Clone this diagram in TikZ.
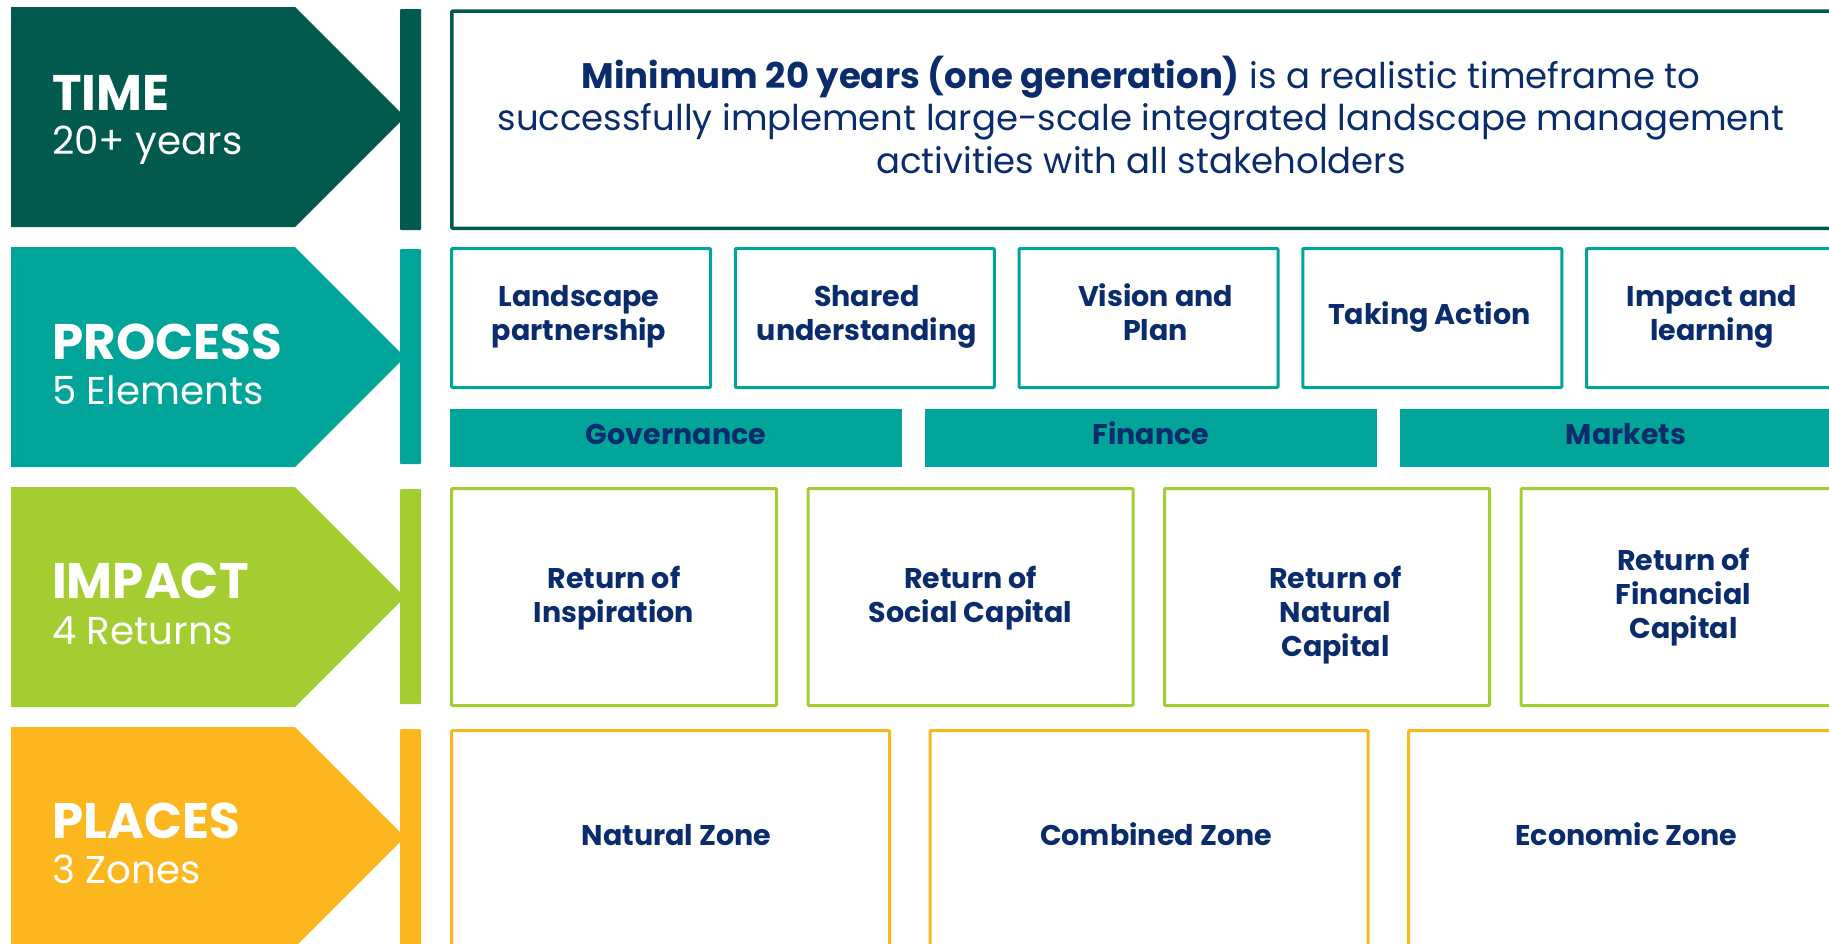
\documentclass[tikz,border=0pt]{standalone}
\usepackage{fontspec}
\setmainfont{Poppins}
\definecolor{cTime}{HTML}{025A4E}
\definecolor{cProc}{HTML}{00A499}
\definecolor{cImp}{HTML}{A3CD31}
\definecolor{cPlace}{HTML}{FDB71E}
\definecolor{navy}{HTML}{0B2C6C}
\newcommand\rowarrow[3]{%
  \fill[#1] (11,#2) -- (295,#2) -- (405,#2+110) -- (295,#2+220) -- (11,#2+220) -- cycle;
  \fill[#1,rounded corners=1pt] (400,#2+2) rectangle (421,#3);}
\newcommand\ls{\strut}
\tikzset{
  headlbl/.style={anchor=base west,text=white,inner sep=0pt,font=\fontsize{50}{50}\selectfont\bfseries},
  sublbl/.style={anchor=base west,text=white,inner sep=0pt,font=\fontsize{38.8}{38.8}\selectfont},
  boxlbl/.style={anchor=north,text=navy,align=center,inner sep=0pt,font=\fontsize{28.5}{34}\selectfont\bfseries},
  thinbox/.style={line width=3pt,rounded corners=1pt},
}
\begin{document}
\begin{tikzpicture}[x=1pt,y=-1pt]
\useasboundingbox (0,0) rectangle (1829,943);
\clip (0,0) rectangle (1829,943);
% left arrows and bars
\rowarrow{cTime}{7}{230}
\rowarrow{cProc}{247}{464}
\rowarrow{cImp}{487}{704}
\rowarrow{cPlace}{727}{960}
\node[headlbl] (timeH) at (52,110) {TIME};
\node[sublbl] (timeS) at (52,154) {20+ years};
\node[headlbl] (procH) at (52,359) {PROCESS};
\node[sublbl] (procS) at (52,404) {5 Elements};
\node[headlbl] (impH) at (52,598) {IMPACT};
\node[sublbl] (impS) at (52,644) {4 Returns};
\node[headlbl] (placeH) at (52,838) {PLACES};
\node[sublbl] (placeS) at (52,883) {3 Zones};
% time box
\draw[cTime,line width=3.5pt,rounded corners=1pt] (451.75,11) rectangle (1848,228.25);
\node[anchor=north,text=navy,align=center,inner sep=0pt,font=\fontsize{35.5}{42.5}\selectfont] (timeT) at (1141,55.7)
  {\ls\textbf{Minimum 20 years (one generation)} is a realistic timeframe to\\
   \ls successfully implement large-scale integrated landscape management\\
   \ls activities with all stakeholders};
% process boxes (first-line baselines)
\foreach \i/\t/\xx/\yy [count=\n] in {0/{\ls Landscape\\\ls partnership}/579/306,1/{\ls Shared\\\ls understanding}/866.75/306,2/{\ls Vision and\\\ls Plan}/1155.5/306,3/{\ls Taking Action}/1429.25/324,4/{\ls Impact and\\\ls learning}/1712/306}{
  \draw[cProc,thinbox] (451.5+283.75*\i,248.5) rectangle (710.5+283.75*\i,387.5);
  \node[boxlbl] (proc\n) at (\xx,\yy-23.8) {\t};
}
% governance, finance, markets bars
\foreach \i/\t [count=\n] in {0/Governance,1/Finance,2/Markets}{
  \fill[cProc] (450+475*\i,409) rectangle (902+475*\i,467);
  \node[boxlbl] (bar\n) at (676+475*\i,444-23.8) {\ls\t};
}
% impact boxes
\foreach \i/\t/\xx/\yy [count=\n] in {0/{\ls Return of\\\ls Inspiration}/614/588,1/{\ls Return of\\\ls Social Capital}/970.5/588,2/{\ls Return of\\\ls Natural\\\ls Capital}/1335.5/588,3/{\ls Return of\\\ls Financial\\\ls Capital}/1683.5/570}{
  \draw[cImp,thinbox] (451.5+356.5*\i,488.5) rectangle (776.5+356.5*\i,705.5);
  \node[boxlbl] (imp\n) at (\xx,\yy-23.8) {\t};
}
% places boxes
\foreach \i/\t/\xx [count=\n] in {0/Natural Zone/676.5,1/Combined Zone/1156,2/Economic Zone/1626.5}{
  \draw[cPlace,thinbox] (451.5+478.5*\i,730.5) rectangle (889.5+478.5*\i,990);
  \node[boxlbl] (place\n) at (\xx,845-23.8) {\ls\t};
}
\end{tikzpicture}
\end{document}
